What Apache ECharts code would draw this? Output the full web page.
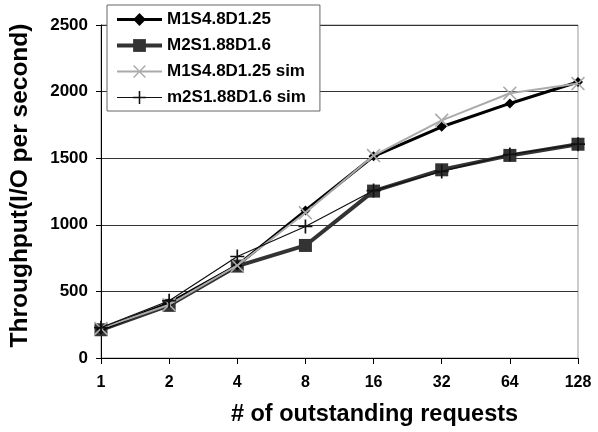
<!DOCTYPE html>
<html><head><meta charset="utf-8">
<script src="https://cdn.jsdelivr.net/npm/echarts@6/dist/echarts.min.js"></script>
<style>html,body{margin:0;padding:0;background:#fff}#c{width:598px;height:432px}</style>
</head><body><div id="c"></div>
<script>
const categories = ['1','2','4','8','16','32','64','128'];
const m1 = [216, 412, 695, 1107, 1514, 1736, 1911, 2072];
const m2 = [212, 395, 690, 845, 1253, 1413, 1521, 1605];
const m1sim = [222, 400, 695, 1090, 1520, 1784, 1988, 2060];
const m2sim = [228, 430, 762, 987, 1257, 1401, 1528, 1605];
const names = ['M1S4.8D1.25','M2S1.88D1.6','M1S4.8D1.25 sim','m2S1.88D1.6 sim'];
const yTicks = [0, 500, 1000, 1500, 2000, 2500];

const FONT = '"Liberation Sans", Arial, sans-serif';
const plusPath = 'path://M4.4,0h1.2v10h-1.2z M0,4.4h10v1.2h-10z';
const crossPath = 'path://M0,0.8L0.8,0L10,9.2L9.2,10Z M10,0.8L9.2,0L0,9.2L0.8,10Z';
const widths = [3, 4, 2, 1.2];
const colors = ['#000', '#333', '#aaa', '#111'];

const chart = echarts.init(document.getElementById('c'));
chart.setOption({
  animation: false,
  backgroundColor: '#fff',
  grid: {left: 88, right: 20, top: 25, bottom: 59, show: true, borderColor: '#999', borderWidth: 1},
  legend: {
    orient: 'vertical', left: 107, top: 5,
    padding: [6, 14, 5, 8], itemGap: 9, itemWidth: 45, itemHeight: 16,
    backgroundColor: '#fff', borderColor: '#666', borderWidth: 1,
    textStyle: {fontFamily: FONT, fontWeight: 'bold', fontSize: 17, color: '#000', lineHeight: 16},
    data: names.map((n, i) => ({name: n, lineStyle: {width: widths[i], color: colors[i]}}))
  },
  xAxis: {
    type: 'category', data: categories, boundaryGap: false,
    name: '# of outstanding requests', nameLocation: 'middle', nameGap: 45,
    nameTextStyle: {fontFamily: FONT, fontWeight: 'bold', fontSize: 23.5, color: '#000', padding: [0, 0, 0, 70]},
    axisLine: {lineStyle: {color: '#000', width: 1}},
    axisTick: {show: true, length: 6, lineStyle: {color: '#000'}},
    axisLabel: {fontFamily: FONT, fontWeight: 'bold', fontSize: 16, color: '#000', margin: 17},
    splitLine: {show: false}
  },
  yAxis: {
    type: 'value', min: yTicks[0], max: yTicks[yTicks.length-1], interval: 500,
    name: 'Throughput(I/O per second)', nameLocation: 'middle', nameGap: 68,
    nameTextStyle: {fontFamily: FONT, fontWeight: 'bold', fontSize: 24.5, color: '#000', padding: [0, 0, 0, 12]},
    axisLine: {show: true, lineStyle: {color: '#000', width: 1}},
    axisTick: {show: true, length: 5, lineStyle: {color: '#000'}},
    axisLabel: {fontFamily: FONT, fontWeight: 'bold', fontSize: 17, color: '#000', margin: 13,
      formatter: v => String(v)},
    splitLine: {show: true, lineStyle: {color: '#333', width: 1}}
  },
  series: [
    {name: names[0], type: 'line', data: m1, symbol: 'diamond', symbolSize: 10,
     lineStyle: {color: colors[0], width: widths[0]}, itemStyle: {color: colors[0]}, z: 3},
    {name: names[1], type: 'line', data: m2, symbol: 'rect', symbolSize: 13,
     lineStyle: {color: colors[1], width: widths[1]}, itemStyle: {color: colors[1]}, z: 2},
    {name: names[2], type: 'line', data: m1sim, symbol: crossPath, symbolSize: 14,
     lineStyle: {color: colors[2], width: widths[2]}, itemStyle: {color: colors[2]}, z: 4},
    {name: names[3], type: 'line', data: m2sim, symbol: plusPath, symbolSize: 14,
     lineStyle: {color: colors[3], width: widths[3]}, itemStyle: {color: colors[3]}, z: 5}
  ]
});
</script></body></html>
